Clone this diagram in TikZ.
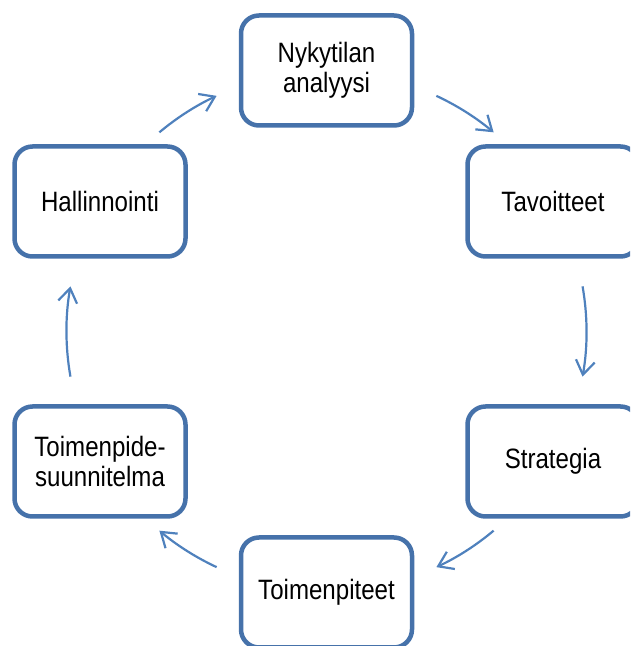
\documentclass[tikz,border=0pt]{standalone}
\usepackage{fontspec}
\setmainfont{Liberation Sans}[FakeStretch=0.86]
\usetikzlibrary{arrows.meta}
\definecolor{boxblue}{HTML}{4672AA}
\definecolor{arrblue}{HTML}{4F81BD}
\begin{document}
\begin{tikzpicture}[x=1pt,y=1pt,
  stage/.style={draw=boxblue, line width=4.5pt, rounded corners=18pt,
    minimum width=171pt, minimum height=110pt, align=center,
    font=\fontsize{28}{29.5}\selectfont, fill=white, inner sep=0pt},
  cyc/.style={draw=arrblue, line width=2.2pt,
    -{Straight Barb[length=14pt,width=19pt]}}]
\useasboundingbox (0,0) rectangle (630,646);
\clip (0,0) rectangle (630,646);
\coordinate (c) at (326.5,314.5);
\node[stage] (n1) at (326.5,575.5) {Nykytilan\\analyysi};
\node[stage] (n2) at (553,444.5) {Tavoitteet};
\node[stage] (n3) at (553,184.5) {Strategia};
\node[stage] (n4) at (326.5,53.5) {Toimenpiteet};
\node[stage] (n5) at (100,184.5) {Toimenpide-\\suunnitelma};
\node[stage] (n6) at (100,444.5) {Hallinnointi};
\draw[cyc] (c) ++(130:260) arc[start angle=130, end angle=115, radius=260];
\draw[cyc] (c) ++(65:260) arc[start angle=65, end angle=50, radius=260];
\draw[cyc] (c) ++(10:260) arc[start angle=10, end angle=-10, radius=260];
\draw[cyc] (c) ++(-50:260) arc[start angle=-50, end angle=-65, radius=260];
\draw[cyc] (c) ++(-115:260) arc[start angle=-115, end angle=-130, radius=260];
\draw[cyc] (c) ++(190:260) arc[start angle=190, end angle=170, radius=260];
\end{tikzpicture}
\end{document}
